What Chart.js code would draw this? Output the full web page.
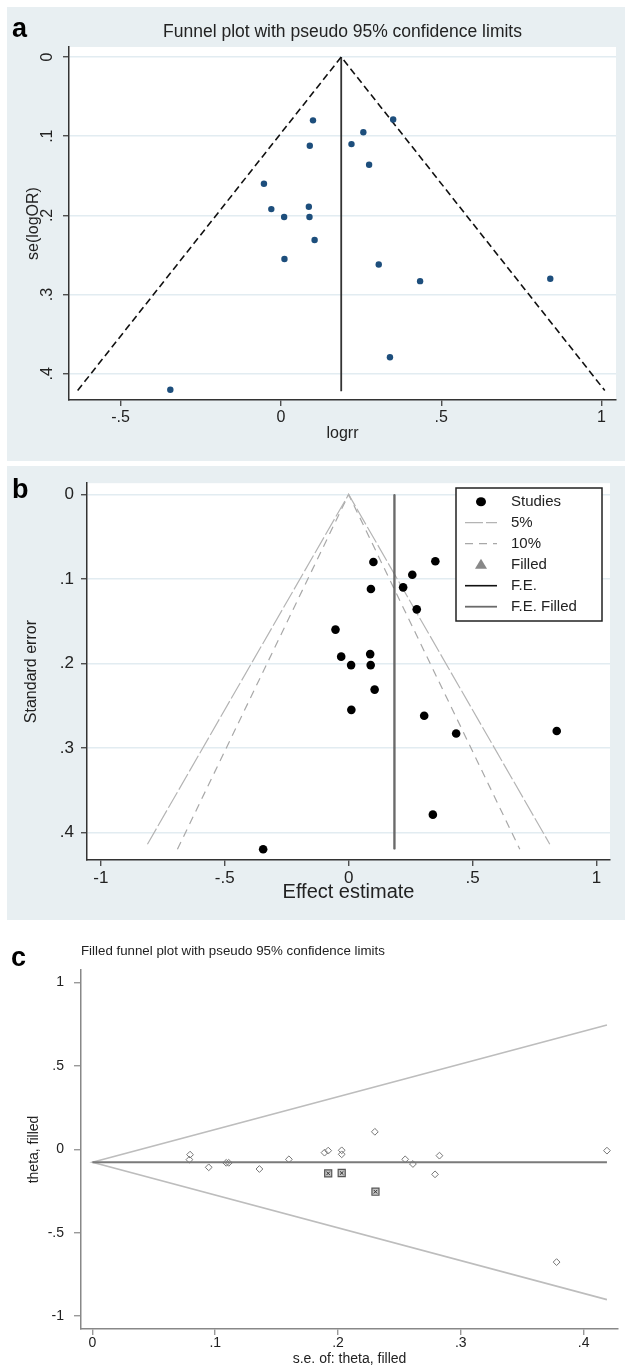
<!DOCTYPE html>
<html>
<head>
<meta charset="utf-8">
<script src="https://cdn.jsdelivr.net/npm/chart.js@4.4.1/dist/chart.umd.min.js"></script>
<style>
  body { margin: 0; width: 625px; height: 1368px; background: #fff; position: relative; overflow: hidden; font-family: "Liberation Sans", Arial, sans-serif; }
  .bg { position: absolute; background: #e8eff2; }
  .box { position: absolute; }
  .tag { position: absolute; font-weight: bold; font-size: 27px; line-height: 27px; color: #000; }
</style>
</head>
<body>
<div class="bg" style="left:7px;top:7px;width:618px;height:454px"></div>
<div class="bg" style="left:7px;top:466px;width:618px;height:454px"></div>
<div class="box" style="left:7px;top:7px;width:618px;height:454px"><canvas id="chartA"></canvas></div>
<div class="box" style="left:7px;top:466px;width:618px;height:454px"><canvas id="chartB"></canvas></div>
<div class="box" style="left:0px;top:925px;width:625px;height:443px"><canvas id="chartC"></canvas></div>
<div class="tag" style="left:12px;top:15px">a</div>
<div class="tag" style="left:12px;top:476px">b</div>
<div class="tag" style="left:11px;top:944px">c</div>

<script>
const SANS = '"Liberation Sans", Arial, sans-serif';
const NARROW = '"Liberation Sans Narrow", "Arial Narrow", "Liberation Sans", sans-serif';

// studies (panels a and b): log risk ratio and its standard error
const logrr = [0.10, 0.35, 0.257, 0.22, 0.09, 0.275, -0.053, -0.03, 0.087, 0.01, 0.089, 0.105, 0.011, 0.305, 0.434, 0.84, 0.34, -0.345];
const seLogOR = [0.080, 0.079, 0.095, 0.110, 0.112, 0.136, 0.160, 0.192, 0.189, 0.202, 0.202, 0.231, 0.255, 0.262, 0.283, 0.280, 0.379, 0.420];

// panel a: pseudo 95% limits and fixed effect
const aFunnelX = [-0.634, 0.188, 1.010];
const aFunnelSE = [0.421, 0, 0.421];
const aFEX = [0.188, 0.188];
const aFESE = [0, 0.422];

// panel b: 5% / 10% contours and F.E. lines
const b5X = [-0.812, 0, 0.812];
const b5SE = [0.414, 0, 0.414];
const b10X = [-0.691, 0, 0.691];
const b10SE = [0.420, 0, 0.420];
const bFEX = [0.185, 0.185];
const bFESE = [0, 0.42];

// panel c: filled funnel (observed + imputed studies)
const seFilled = [0.0795, 0.079, 0.0947, 0.109, 0.111, 0.136, 0.160, 0.189, 0.192, 0.203, 0.203, 0.230, 0.2547, 0.261, 0.279, 0.2826, 0.378, 0.419];
const thetaFilled = [-0.032, -0.062, -0.108, -0.081, -0.081, -0.118, -0.060, -0.020, -0.008, -0.030, -0.006, 0.105, -0.060, -0.088, -0.150, -0.038, -0.676, -0.008];
const seImputed = [0.192, 0.203, 0.2305];
const thetaImputed = [-0.144, -0.142, -0.254];
const cLimitSE = [0.419, 0, 0.419];
const cLimitTheta = [0.745, -0.078, -0.901];
const cPooledSE = [0, 0.419];
const cPooledTheta = [-0.078, -0.078];

// tick values and labels
const aTicksX = [-0.5, 0, 0.5, 1];
const aTickLabelsX = ['-.5', '0', '.5', '1'];
const abTicksY = [0, 0.1, 0.2, 0.3, 0.4];
const abTickLabelsY = ['0', '.1', '.2', '.3', '.4'];
const bTicksX = [-1, -0.5, 0, 0.5, 1];
const bTickLabelsX = ['-1', '-.5', '0', '.5', '1'];
const cTicksX = [0, 0.1, 0.2, 0.3, 0.4];
const cTickLabelsX = ['0', '.1', '.2', '.3', '.4'];
const cTicksY = [1, 0.5, 0, -0.5, -1];
const cTickLabelsY = ['1', '.5', '0', '-.5', '-1'];

Chart.defaults.font.family = SANS;
Chart.defaults.color = '#222';

const pts = (xs, ys) => xs.map((x, i) => ({ x: x, y: ys[i] }));

// white plotting region
const plotBg = {
  id: 'plotBg',
  beforeDraw(chart, args, opts) {
    if (!opts.color) return;
    const { ctx, chartArea: a } = chart;
    ctx.save();
    ctx.fillStyle = opts.color;
    ctx.fillRect(a.left, a.top, a.right - a.left, a.bottom - a.top);
    ctx.restore();
  }
};

// Stata-style boxed legend inside the plot (panel b)
const boxLegend = {
  id: 'boxLegend',
  afterDraw(chart, args, o) {
    if (!o.show) return;
    const ctx = chart.ctx;
    ctx.save();
    ctx.fillStyle = '#fff';
    ctx.fillRect(o.x, o.y, o.w, o.h);
    ctx.strokeStyle = '#222';
    ctx.lineWidth = 1.5;
    ctx.strokeRect(o.x, o.y, o.w, o.h);
    ctx.font = '15px ' + SANS;
    ctx.textBaseline = 'middle';
    chart.data.datasets.forEach((ds, i) => {
      const cy = o.y + o.first + i * o.step;
      if (ds.showLine) {
        ctx.strokeStyle = ds.borderColor;
        ctx.lineWidth = ds.borderWidth;
        ctx.setLineDash(ds.borderDash || []);
        ctx.beginPath();
        ctx.moveTo(o.symX - 16, cy);
        ctx.lineTo(o.symX + 16, cy);
        ctx.stroke();
        ctx.setLineDash([]);
      } else if (ds.pointStyle === 'triangle') {
        ctx.fillStyle = ds.backgroundColor;
        ctx.beginPath();
        ctx.moveTo(o.symX, cy - 6);
        ctx.lineTo(o.symX + 6, cy + 4);
        ctx.lineTo(o.symX - 6, cy + 4);
        ctx.closePath();
        ctx.fill();
      } else {
        ctx.fillStyle = ds.backgroundColor;
        ctx.beginPath();
        ctx.ellipse(o.symX, cy, 5, 4.5, 0, 0, Math.PI * 2);
        ctx.fill();
      }
      ctx.fillStyle = '#222';
      ctx.fillText(ds.label, o.textX, cy);
    });
    ctx.restore();
  }
};

function axis(o) {
  return {
    type: 'linear',
    position: o.position,
    min: o.min,
    max: o.max,
    reverse: !!o.reverse,
    afterBuildTicks: s => { s.ticks = o.ticks.map(v => ({ value: v })); },
    afterFit: s => { if (o.position === 'left') s.width = o.size; else s.height = o.size; },
    ticks: {
      autoSkip: false,
      padding: o.pad,
      font: { family: o.family || SANS, size: o.fontSize },
      color: '#222',
      minRotation: o.rot || 0,
      maxRotation: o.rot || 0,
      crossAlign: o.rot ? 'center' : 'near',
      callback: v => o.labels[o.ticks.indexOf(v)]
    },
    grid: {
      drawOnChartArea: !!o.gridColor,
      color: o.gridColor || 'transparent',
      lineWidth: 1.5,
      drawTicks: true,
      tickLength: o.tickLength || 6,
      tickColor: o.axisColor,
      tickWidth: 1.2
    },
    border: { display: true, color: o.axisColor, width: o.axisWidth || 1.5 },
    title: {
      display: true,
      text: o.title,
      color: '#222',
      font: { family: o.family || SANS, size: o.titleSize },
      padding: o.titlePad
    }
  };
}

// ---- panel a ----
new Chart(document.getElementById('chartA'), {
  type: 'scatter',
  data: {
    datasets: [
      { label: 'studies', data: pts(logrr, seLogOR), pointRadius: 3.2, backgroundColor: '#1d4e7c', borderWidth: 0, order: 0 },
      { label: 'limits', data: pts(aFunnelX, aFunnelSE), showLine: true, pointRadius: 0, borderColor: '#111', borderWidth: 1.6, borderDash: [7, 4], order: 1 },
      { label: 'fe', data: pts(aFEX, aFESE), showLine: true, pointRadius: 0, borderColor: '#333', borderWidth: 1.8, order: 1 }
    ]
  },
  options: {
    responsive: true,
    maintainAspectRatio: false,
    animation: false,
    layout: { padding: { left: 0, right: 9, top: 0, bottom: 0 } },
    plugins: {
      legend: { display: false },
      tooltip: { enabled: false },
      plotBg: { color: '#fff' },
      title: {
        display: true, fullSize: false,
        text: 'Funnel plot with pseudo 95% confidence limits',
        color: '#222', font: { size: 17.5, weight: 'normal' },
        padding: { top: 15, bottom: 4 }
      }
    },
    scales: {
      x: axis({ position: 'bottom', min: -0.661, max: 1.045, ticks: aTicksX, labels: aTickLabelsX, size: 61, pad: 2, fontSize: 16,
                axisColor: '#333', title: 'logrr', titleSize: 16, titlePad: { top: 0, bottom: 18 } }),
      y: axis({ position: 'left', min: -0.0126, max: 0.433, reverse: true, ticks: abTicksY, labels: abTickLabelsY, size: 62, pad: 9, fontSize: 16, rot: 90,
                axisColor: '#333', gridColor: '#e2ecf1', title: 'se(logOR)', titleSize: 16, titlePad: { top: 17, bottom: 0 } })
    }
  },
  plugins: [plotBg]
});

// ---- panel b ----
new Chart(document.getElementById('chartB'), {
  type: 'scatter',
  data: {
    datasets: [
      { label: 'Studies', data: pts(logrr, seLogOR), pointRadius: 4.3, backgroundColor: '#000', borderWidth: 0, order: 0 },
      { label: '5%', data: pts(b5X, b5SE), showLine: true, pointRadius: 0, borderColor: '#b4b4b4', borderWidth: 1.2, borderDash: [18, 3], order: 3 },
      { label: '10%', data: pts(b10X, b10SE), showLine: true, pointRadius: 0, borderColor: '#a8a8a8', borderWidth: 1.2, borderDash: [8, 6], order: 3 },
      { label: 'Filled', data: [], pointStyle: 'triangle', pointRadius: 5, backgroundColor: '#888', borderWidth: 0, order: 0 },
      { label: 'F.E.', data: pts(bFEX, bFESE), showLine: true, pointRadius: 0, borderColor: '#111', borderWidth: 1.6, order: 2 },
      { label: 'F.E. Filled', data: pts(bFEX, bFESE), showLine: true, pointRadius: 0, borderColor: '#6a6a6a', borderWidth: 1.8, order: 1 }
    ]
  },
  options: {
    responsive: true,
    maintainAspectRatio: false,
    animation: false,
    layout: { padding: { left: 0, right: 15, top: 16, bottom: 0 } },
    plugins: {
      legend: { display: false },
      tooltip: { enabled: false },
      plotBg: { color: '#fff' },
      boxLegend: { show: true, x: 449, y: 22, w: 146, h: 133, first: 13.7, step: 21, symX: 474, textX: 504 }
    },
    scales: {
      x: axis({ position: 'bottom', min: -1.056, max: 1.055, ticks: bTicksX, labels: bTickLabelsX, size: 60, pad: 2, fontSize: 17,
                axisColor: '#333', title: 'Effect estimate', titleSize: 20, titlePad: { top: 0, bottom: 16 } }),
      y: axis({ position: 'left', min: -0.0133, max: 0.4327, reverse: true, ticks: abTicksY, labels: abTickLabelsY, size: 80, pad: 7, fontSize: 17,
                axisColor: '#333', gridColor: '#e2ecf1', title: 'Standard error', titleSize: 16, titlePad: { top: 15, bottom: 0 } })
    }
  },
  plugins: [plotBg, boxLegend]
});

// ---- panel c ----
new Chart(document.getElementById('chartC'), {
  type: 'scatter',
  data: {
    datasets: [
      { label: 'imputed mark', data: pts(seImputed, thetaImputed), pointStyle: 'crossRot', pointRadius: 2.5, borderColor: '#333', borderWidth: 1, order: 0 },
      { label: 'imputed', data: pts(seImputed, thetaImputed), pointStyle: 'rect', pointRadius: 5, backgroundColor: '#c4c4c4', borderColor: '#555', borderWidth: 1.2, order: 1 },
      { label: 'theta, filled', data: pts(seFilled, thetaFilled), pointStyle: 'rectRot', pointRadius: 3.4, backgroundColor: 'rgba(0,0,0,0)', borderColor: '#777', borderWidth: 1, order: 2 },
      { label: 'pooled', data: pts(cPooledSE, cPooledTheta), showLine: true, pointRadius: 0, borderColor: '#7a7a7a', borderWidth: 2, order: 3 },
      { label: 'limits', data: pts(cLimitSE, cLimitTheta), showLine: true, pointRadius: 0, borderColor: '#bdbdbd', borderWidth: 1.6, order: 4 }
    ]
  },
  options: {
    responsive: true,
    maintainAspectRatio: false,
    animation: false,
    layout: { padding: { left: 0, right: 7, top: 0, bottom: 0 } },
    plugins: {
      legend: { display: false },
      tooltip: { enabled: false },
      title: {
        display: true, fullSize: false, align: 'start',
        text: 'Filled funnel plot with pseudo 95% confidence limits',
        color: '#222', font: { family: NARROW, size: 13.3, weight: 'normal' },
        padding: { top: 18, bottom: 11 }
      }
    },
    scales: {
      x: axis({ position: 'bottom', min: -0.0093, max: 0.428, ticks: cTicksX, labels: cTickLabelsX, size: 39, pad: 0, fontSize: 14, family: NARROW,
                axisColor: '#888', tickLength: 6, title: 's.e. of: theta, filled', titleSize: 14, titlePad: { top: 0, bottom: 0.6 } }),
      y: axis({ position: 'left', min: -1.077, max: 1.075, ticks: cTicksY, labels: cTickLabelsY, size: 81, pad: 10, fontSize: 14, family: NARROW,
                axisColor: '#888', tickLength: 7, title: 'theta, filled', titleSize: 14, titlePad: { top: 25.6, bottom: 0 } })
    }
  }
});
</script>
</body>
</html>
